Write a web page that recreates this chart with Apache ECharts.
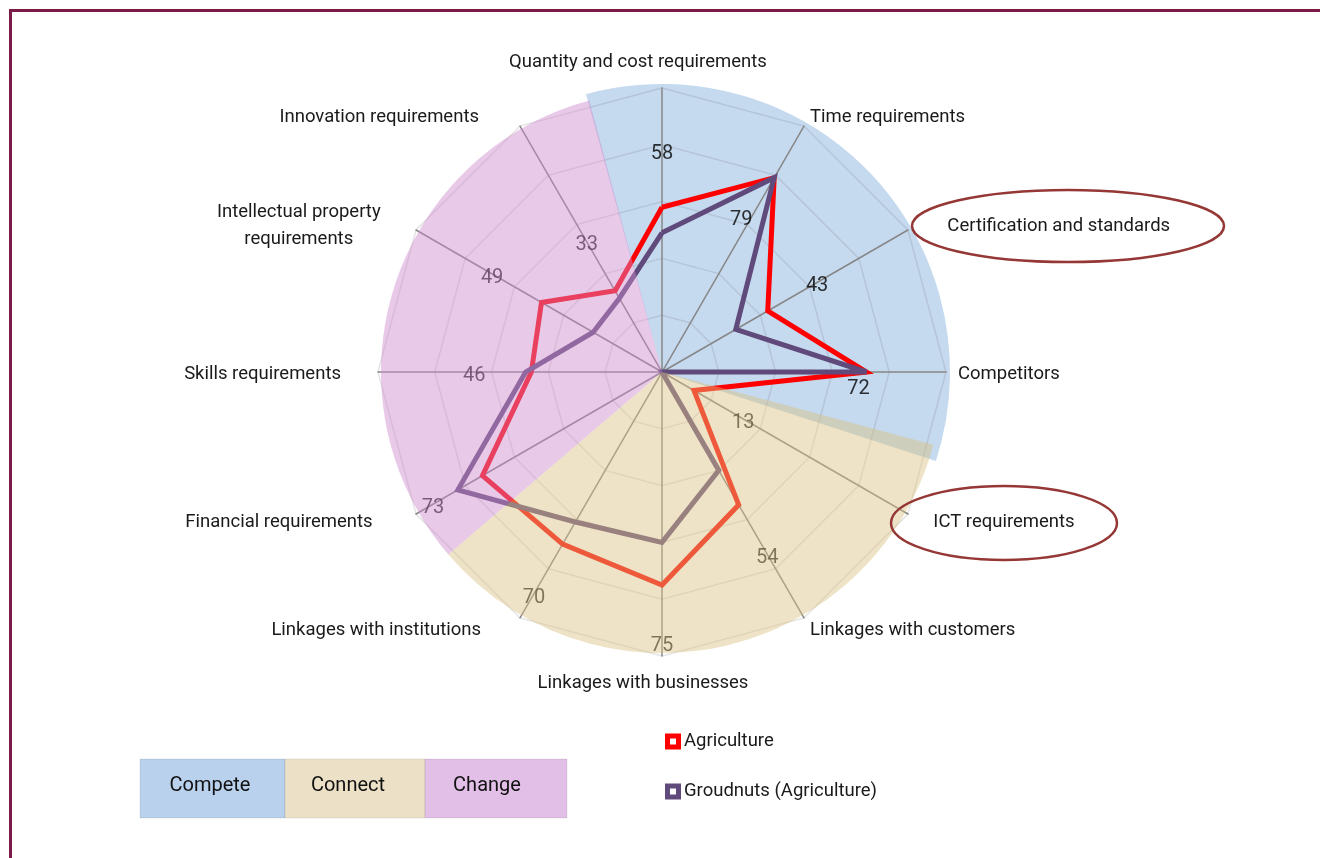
<!DOCTYPE html>
<html>
<head>
<meta charset="UTF-8">
<title>Radar - Agriculture</title>
<script src="https://cdn.jsdelivr.net/npm/echarts@6/dist/echarts.min.js"></script>
<style>
html, body { margin: 0; padding: 0; background: #fff; }
#main { width: 1320px; height: 858px; }
</style>
</head>
<body>
<div id="main"></div>
<script type="text/javascript">
// data
var indicators = ['Quantity and cost requirements', 'Time requirements', 'Certification and standards',
	'Competitors', 'ICT requirements', 'Linkages with customers', 'Linkages with businesses',
	'Linkages with institutions', 'Financial requirements', 'Skills requirements',
	'Intellectual property requirements', 'Innovation requirements'];
var agriculture = [58, 79, 43, 72, 13, 54, 75, 70, 73, 46, 49, 33];
var groundnuts = [49, 79, 30, 72, 0, 40, 60, 61, 83, 48, 28, 30];
var seriesNames = ['Agriculture', 'Groudnuts (Agriculture)'];
var groups = ['Compete', 'Connect', 'Change'];

// layout / style
var FONT = 'Roboto, "DejaVu Sans Condensed", sans-serif';
var FS = 18.5;
var CX = 662, CY = 372, R = 284;
var groupColors = ['#c5d9ef', 'rgba(217,195,130,0.46)', 'rgba(204,139,204,0.46)'];
var boxColors = ['#b9d1ec', '#ece0c6', '#e2bfe6'];
var sectorStart = [105.3, 345, 220.5];
var sectorSpan = [123.3, 124.5, 115.5];
var sectorRadius = [288, 281, 281];
var namePad = [[0, 48, 0, 0], [4, 0, 0, 0], [4, 0, 0, 29], [4, 0, 0, 0], [4, 0, 0, 15], [4, 0, 0, 0],
	[4, 38, 0, 0], [4, 33, 0, 0], [4, 33, 0, 0], [4, 25, 0, 0], [3, 25, 0, 0], [4, 35, 0, 0]];

// radar goes counter-clockwise, so feed it in reverse after the first axis
var order = [0];
for (var k = indicators.length - 1; k > 0; k--) order.push(k);

var rich = {};
indicators.forEach(function (n, i) {
	rich['n' + i] = {
		fontFamily: FONT, fontSize: FS, color: '#1a1a1a', padding: namePad[i],
		lineHeight: 27, align: i === 10 ? 'center' : undefined
	};
});

// value labels: pushed out one ring along their axis, two moved by hand
var labelOff = agriculture.map(function (v, i) {
	var a = i * 30 * Math.PI / 180;
	return [57 * Math.sin(a), -57 * Math.cos(a) + 4];
});
labelOff[1] = [-33, 42];
labelOff[3] = [-8, 17];

var pies = groups.map(function (g, i) {
	return {
		type: 'pie', name: g, silent: true, z: i === 0 ? 0 : 3,
		center: [CX, CY], radius: [0, sectorRadius[i]],
		startAngle: sectorStart[i], clockwise: true,
		label: { show: false }, labelLine: { show: false },
		emphasis: { disabled: true },
		itemStyle: { borderWidth: 0 },
		data: [
			{ value: sectorSpan[i], name: g, itemStyle: { color: groupColors[i] } },
			{ value: 360 - sectorSpan[i], name: g + '_rest', itemStyle: { color: 'rgba(0,0,0,0)' } }
		]
	};
});

var myChart = echarts.init(document.getElementById('main'));
var option = {
	animation: false,
	backgroundColor: '#fff',
	legend: {
		data: seriesNames,
		orient: 'vertical',
		left: 660, top: 727,
		itemWidth: 16, itemHeight: 16, itemGap: 31,
		icon: 'path://M0,0H16V16H0Z M5,5V11H11V5Z',
		itemStyle: { borderWidth: 0 },
		textStyle: { fontFamily: FONT, fontSize: FS, color: '#1a1a1a', padding: [0, 0, 0, -2] },
		selectedMode: false
	},
	radar: {
		center: [CX, CY], radius: R, startAngle: 90, splitNumber: 5, shape: 'polygon', z: 1,
		indicator: order.map(function (i) { return { name: indicators[i], min: 0, max: 100 }; }),
		nameGap: 12,
		axisName: {
			formatter: function (name) {
				var i = indicators.indexOf(name);
				var lines = i === 10 ? ['Intellectual property', 'requirements'] : [name];
				return lines.map(function (l) { return '{n' + i + '|' + l + '}'; }).join('\n');
			},
			rich: rich
		},
		axisLine: { lineStyle: { color: '#878787', width: 1.5 } },
		splitLine: { lineStyle: { color: 'rgba(120,120,120,0.2)', width: 1.5 } },
		splitArea: { show: false },
		axisTick: { show: false },
		axisLabel: { show: false }
	},
	polar: { center: [CX, CY], radius: R },
	angleAxis: { type: 'value', min: 0, max: 360, startAngle: 90, clockwise: true, show: false },
	radiusAxis: { type: 'value', min: 0, max: 100, show: false },
	series: pies.concat([
		{
			type: 'radar', name: seriesNames[0], z: 2, symbol: 'none', silent: true,
			itemStyle: { color: '#ff0000' },
			lineStyle: { color: '#ff0000', width: 5, join: 'miter', miterLimit: 6 },
			data: [{ name: seriesNames[0], value: order.map(function (i) { return agriculture[i]; }) }]
		},
		{
			type: 'radar', name: seriesNames[1], z: 2, symbol: 'none', silent: true,
			itemStyle: { color: '#604a7b' },
			lineStyle: { color: '#604a7b', width: 5, join: 'miter', miterLimit: 6 },
			data: [{ name: seriesNames[1], value: order.map(function (i) { return groundnuts[i]; }) }]
		},
		{
			type: 'scatter', coordinateSystem: 'polar', z: 2, silent: true,
			symbolSize: 1, itemStyle: { color: 'rgba(0,0,0,0)' },
			label: {
				show: true, position: 'inside', fontFamily: FONT, fontSize: 20, color: '#000',
				formatter: function (p) { return p.value[0]; }
			},
			data: agriculture.map(function (v, i) {
				return { value: [v, i * 30], label: { offset: labelOff[i] } };
			})
		}
	]),
	graphic: [
		{ type: 'line', shape: { x1: 10, y1: 10.5, x2: 1320, y2: 10.5 }, style: { stroke: '#7c1a48', lineWidth: 3 }, z: 10 },
		{ type: 'line', shape: { x1: 10.5, y1: 9, x2: 10.5, y2: 858 }, style: { stroke: '#7c1a48', lineWidth: 3 }, z: 10 },
		{ type: 'ellipse', shape: { cx: 1068, cy: 226, rx: 156, ry: 36 }, style: { fill: 'none', stroke: '#953735', lineWidth: 2.5 }, z: 10 },
		{ type: 'ellipse', shape: { cx: 1004, cy: 523, rx: 113, ry: 37 }, style: { fill: 'none', stroke: '#953735', lineWidth: 2.5 }, z: 10 },
		{ type: 'rect', shape: { x: 140, y: 759, width: 145, height: 59 }, style: { fill: boxColors[0], stroke: 'rgba(0,0,0,0.08)', lineWidth: 1 }, z: 10 },
		{ type: 'rect', shape: { x: 285, y: 759, width: 140, height: 59 }, style: { fill: boxColors[1], stroke: 'rgba(0,0,0,0.08)', lineWidth: 1 }, z: 10 },
		{ type: 'rect', shape: { x: 425, y: 759, width: 142, height: 59 }, style: { fill: boxColors[2], stroke: 'rgba(0,0,0,0.08)', lineWidth: 1 }, z: 10 },
		{ type: 'text', x: 210, y: 786, style: { text: groups[0], align: 'center', verticalAlign: 'middle', fill: '#111', font: '20px ' + FONT }, z: 11 },
		{ type: 'text', x: 348, y: 786, style: { text: groups[1], align: 'center', verticalAlign: 'middle', fill: '#111', font: '20px ' + FONT }, z: 11 },
		{ type: 'text', x: 487, y: 786, style: { text: groups[2], align: 'center', verticalAlign: 'middle', fill: '#111', font: '20px ' + FONT }, z: 11 }
	]
};
myChart.setOption(option);
</script>
</body>
</html>
